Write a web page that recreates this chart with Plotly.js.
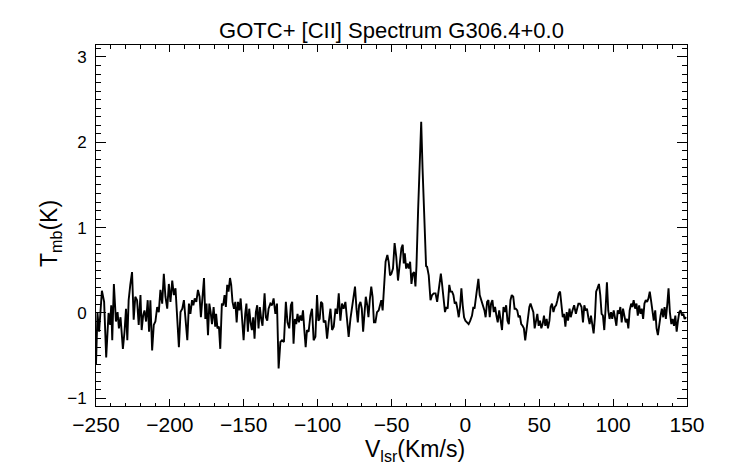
<!DOCTYPE html>
<html>
<head>
<meta charset="utf-8">
<script src="https://cdn.plot.ly/plotly-3.0.1.min.js"></script>
<style>html,body{margin:0;padding:0;background:#fff;}#chart{width:742px;height:464px;}</style>
</head>
<body>
<div id="chart"></div>
<script>
// Velocity (km/s)
const vlsr = [
-250.0,-249.0,-247.9,-246.0,-244.5,-243.1,-241.5,-240.4,-239.7,-239.0,-237.9,-236.5,-235.4,-234.5,-233.4,-231.8,-230.7,-229.7,-228.8,-227.9,
-226.8,-225.6,-224.5,-223.4,-222.2,-221.1,-219.9,-219.1,-218.1,-217.2,-216.1,-215.0,-214.1,-213.2,-212.0,-210.9,-209.8,-208.6,-207.5,-206.4,
-205.2,-204.1,-203.0,-201.8,-200.7,-199.6,-198.4,-197.3,-196.2,-195.0,-193.9,-192.8,-191.6,-190.5,-189.4,-188.2,-187.1,
-186.1,-185.0,-184.1,-183.2,-182.1,-181.0,-179.9,-179.0,-177.9,-176.9,-176.0,-175.2,-174.2,-173.3,-172.4,-171.5,-170.4,-169.3,-168.7,-167.8,
-166.8,-165.9,-164.8,-163.9,-163.0,-162.1,-161.2,-160.3,-159.3,-158.5,-157.6,-156.6,-155.7,-154.8,-153.9,-153.0,-152.1,-151.2,-150.1,-149.0,
-148.2,-147.2,-146.3,-145.4,-144.5,-143.6,-142.7,-141.8,-140.9,-140.0,-139.1,-138.2,-137.3,-135.9,-135.0,-134.1,-133.2,-132.0,-130.9,-129.8,
-128.6,-127.5,-126.4,-125.2,-124.1,-122.8,
-121.5,-120.4,-119.2,-118.1,-117.2,-116.3,-115.4,-114.5,-113.6,-112.7,-111.7,-110.8,-109.9,-109.0,-108.1,-107.2,-106.1,-104.9,-103.8,-102.7,
-101.5,-100.4,-99.5,-98.6,-97.7,-96.8,-95.9,-94.7,-93.6,-92.5,-91.3,-90.2,-89.1,-87.9,-86.8,-85.7,-84.6,-83.5,-82.4,-81.2,
-80.1,-79.0,-77.8,-76.7,-75.6,-74.7,-73.7,-72.8,-71.9,-71.0,-70.1,-69.2,-68.3,-67.4,-66.4,-65.6,-64.7,-63.7,-62.8,-61.9,-60.9,
-59.8,-58.7,-57.5,-56.9,-56.0,-54.8,-54.0,-52.8,-51.9,-51.0,-50.1,-49.0,-47.9,-46.8,-45.6,-44.5,-43.3,-42.4,-41.7,-41.0,
-40.1,-39.2,-38.3,-37.4,-36.5,-35.6,-34.7,-33.8,-33.1,-32.0,-30.8,-29.9,-29.0,-28.2,-27.3,-26.6,-25.9,-24.8,-23.6,-22.5,
-21.4,-20.2,-19.1,-18.0,-16.6,-15.9,-14.8,-13.8,-12.9,-12.0,-10.9,-10.0,-9.0,-8.1,-7.2,-6.3,-5.4,-4.5,-3.6,-2.7,
-1.8,-0.9,0.0,1.1,2.2,
3.3,4.5,5.4,6.2,7.2,7.9,8.8,9.7,10.9,12.0,12.9,13.7,14.7,15.6,16.5,17.4,18.3,19.2,20.1,21.0,
21.9,22.9,23.7,24.8,25.8,26.7,27.6,28.5,29.4,30.5,31.4,32.4,33.3,34.1,35.1,36.0,36.9,37.8,38.7,39.6,
40.5,41.4,42.3,43.3,44.1,45.0,46.0,46.9,47.7,48.7,49.6,50.5,51.4,52.3,53.2,54.1,55.0,55.9,56.9,57.7,
58.6,59.6,60.5,61.4,62.3,63.2,64.1,65.0,65.9,66.8,67.7,68.6,69.5,70.5,71.3,72.5,73.6,74.8,75.8,
76.5,77.5,78.6,79.6,80.5,81.4,82.3,83.2,84.1,85.0,85.9,86.8,87.7,88.5,89.4,90.4,91.3,92.2,93.1,94.0,
94.9,95.8,96.7,97.6,98.6,99.4,100.4,101.3,102.2,103.1,104.0,104.9,105.8,106.7,107.6,108.5,109.4,110.3,111.2,112.2,
113.0,113.9,114.9,115.8,116.7,117.6,118.5,119.4,120.3,121.2,122.1,123.0,123.9,124.8,125.8,126.6,127.5,128.5,129.4,130.3,
131.2,132.1,133.0,133.9,134.8,135.7,136.7,137.5,138.4,139.4,140.3,141.2,142.1,143.0,143.9,144.8,145.7,146.6,147.5,148.4,149.4
];

// Main-beam temperature (K)
const tmb = [
-0.60,0.00,-0.22,0.26,0.13,-0.52,0.00,-0.14,0.09,-0.32,0.34,-0.10,0.01,-0.18,-0.05,-0.42,-0.22,0.05,-0.32,0.15,
0.33,0.48,-0.08,0.19,0.15,-0.14,0.21,-0.20,-0.03,0.03,-0.10,0.15,-0.22,0.15,-0.44,-0.14,-0.10,0.07,0.01,0.27,
0.11,0.46,0.19,0.05,0.34,0.13,0.38,0.21,0.29,-0.10,-0.40,0.01,0.05,0.15,-0.07,-0.32,0.11,
-0.01,0.15,0.09,0.17,0.13,0.27,0.19,-0.05,0.23,0.41,-0.07,0.11,-0.26,0.11,0.01,-0.13,0.07,-0.16,-0.01,-0.18,
-0.16,-0.42,0.11,0.09,0.21,0.07,0.33,0.25,0.41,0.33,0.13,0.05,0.13,-0.11,0.13,0.03,0.17,-0.07,-0.32,-0.01,
0.11,-0.22,0.05,-0.11,-0.20,-0.05,-0.30,0.01,0.09,-0.18,0.07,-0.07,-0.15,0.23,-0.05,-0.09,0.05,0.11,0.09,0.17,
-0.01,0.11,-0.65,-0.34,-0.32,-0.34,
0.13,-0.11,-0.18,0.09,0.13,-0.36,-0.07,-0.13,-0.01,-0.11,-0.03,-0.09,0.03,-0.20,-0.40,-0.20,-0.22,-0.03,0.05,-0.32,
-0.28,0.21,-0.09,-0.07,0.13,0.11,-0.11,-0.09,-0.30,-0.11,0.05,-0.20,-0.16,0.05,-0.01,0.23,-0.09,0.11,0.05,0.13,
-0.11,-0.28,-0.07,0.09,0.19,0.31,0.05,-0.11,0.09,0.13,0.05,-0.22,-0.01,0.19,0.09,-0.05,0.15,0.31,0.19,-0.11,-0.11,
0.01,0.03,0.11,0.15,0.03,0.38,0.60,0.68,0.60,0.44,0.46,0.52,0.82,0.66,0.38,0.56,0.76,0.80,0.58,0.70,
0.52,0.58,0.52,0.60,0.34,0.46,0.48,0.31,0.55,1.20,1.95,2.24,1.70,1.30,0.75,0.55,0.54,0.44,0.15,0.21,
0.23,0.23,0.13,0.31,0.46,0.36,0.17,0.01,0.07,0.05,0.33,0.25,0.25,0.21,0.11,0.13,0.05,-0.05,0.07,0.29,
0.09,-0.05,-0.09,-0.11,-0.13,
-0.09,-0.03,0.07,0.05,0.19,0.27,0.40,0.21,0.15,0.07,0.03,-0.05,0.13,0.15,-0.05,0.11,0.15,0.01,0.07,-0.03,
-0.11,0.03,-0.09,-0.20,0.07,0.01,0.09,-0.09,-0.13,0.15,0.21,0.19,0.05,0.05,0.03,-0.05,-0.03,-0.13,-0.15,-0.18,
-0.32,-0.18,-0.01,0.07,0.11,0.05,0.01,-0.18,-0.09,-0.01,-0.15,-0.09,-0.18,-0.13,-0.03,-0.15,-0.07,-0.18,-0.09,0.07,
0.11,0.01,0.07,0.09,0.15,0.23,0.25,0.09,-0.05,-0.01,-0.16,0.01,-0.09,0.05,-0.05,0.03,0.09,-0.01,0.09,
0.11,0.11,0.07,-0.11,0.09,0.03,0.05,-0.05,-0.13,-0.03,-0.16,-0.24,-0.05,0.25,0.29,0.34,0.21,-0.01,-0.03,-0.20,
0.05,0.36,0.03,-0.07,0.01,-0.07,0.03,-0.05,-0.15,0.03,-0.01,0.07,-0.11,0.05,-0.03,-0.11,-0.07,-0.18,0.03,0.11,
0.07,0.15,0.05,0.11,-0.03,0.09,-0.01,0.05,-0.07,0.11,0.15,0.13,0.17,0.25,0.13,0.03,-0.09,0.03,-0.18,-0.26,
-0.11,-0.03,0.05,-0.05,0.07,-0.07,0.11,0.29,0.01,-0.13,-0.07,-0.15,-0.03,-0.22,-0.09,0.01,0.03,-0.03,-0.01,-0.07,-0.05
];

const xTickVals = [-250, -200, -150, -100, -50, 0, 50, 100, 150];
const yTickVals = [-1, 0, 1, 2, 3];
const chartTitle = 'GOTC+ [CII] Spectrum G306.4+0.0';
const xTitle = 'V<sub>lsr</sub>(Km/s)';
const yTitle = 'T<sub>mb</sub>(K)';

const FONT = 'Liberation Sans, Arial, Helvetica, sans-serif';
const minusLabel = v => v < 0 ? '\u2212' + Math.abs(v) : String(v);

const trace = {
  x: vlsr,
  y: tmb,
  type: 'scatter',
  mode: 'lines',
  line: {color: '#000', width: 1.9},
  hoverinfo: 'skip'
};

const layout = {
  width: 742,
  height: 464,
  margin: {l: 96, r: 55, t: 45, b: 58},
  paper_bgcolor: '#fff',
  plot_bgcolor: '#fff',
  showlegend: false,
  font: {family: FONT, color: '#000'},
  title: {
    text: chartTitle,
    font: {family: FONT, size: 22, color: '#000'},
    xref: 'paper', x: 0.5, xanchor: 'center',
    yref: 'container', y: 0.935, yanchor: 'middle'
  },
  xaxis: {
    range: [-250, 150],
    tickvals: xTickVals,
    ticktext: xTickVals.map(minusLabel),
    ticks: 'inside', ticklen: 7, tickwidth: 1, tickcolor: '#000',
    minor: {dtick: 10, ticks: 'inside', ticklen: 3.5, tickwidth: 1, tickcolor: '#000'},
    showline: true, linecolor: '#000', linewidth: 1, mirror: 'ticks',
    showgrid: false, zeroline: false,
    tickfont: {family: FONT, size: 21, color: '#000'}
  },
  yaxis: {
    range: [-1.09, 3.14],
    tickvals: yTickVals,
    ticktext: yTickVals.map(minusLabel),
    ticks: 'inside', ticklen: 10, tickwidth: 1, tickcolor: '#000',
    minor: {dtick: 0.1, ticks: 'inside', ticklen: 5, tickwidth: 1, tickcolor: '#000'},
    showline: true, linecolor: '#000', linewidth: 1, mirror: 'ticks',
    showgrid: false, zeroline: false,
    ticklabelstandoff: 5,
    tickfont: {family: FONT, size: 17, color: '#000'}
  },
  annotations: [
    {text: xTitle, xref: 'paper', yref: 'paper', x: 0.54, y: -0.122, xanchor: 'center', yanchor: 'middle',
     showarrow: false, font: {family: FONT, size: 23, color: '#000'}},
    {text: yTitle, xref: 'paper', yref: 'paper', x: -0.078, y: 0.479, xanchor: 'center', yanchor: 'middle',
     textangle: -90, showarrow: false, font: {family: FONT, size: 23, color: '#000'}}
  ]
};

Plotly.newPlot('chart', [trace], layout, {displayModeBar: false, staticPlot: true});
</script>
</body>
</html>
